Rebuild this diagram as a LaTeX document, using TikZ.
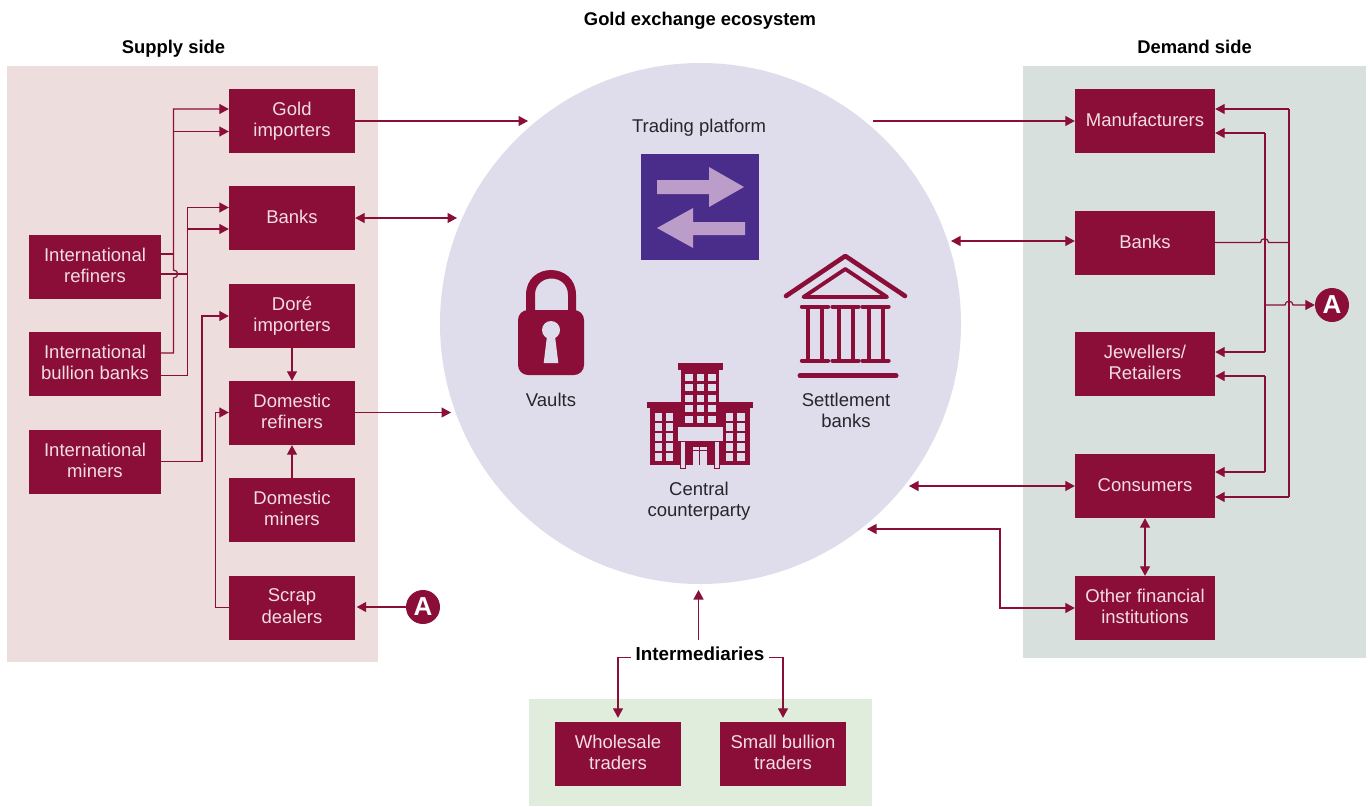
\documentclass[tikz,border=0pt]{standalone}
\usepackage{fontspec}
\setmainfont{Liberation Sans}
\usetikzlibrary{arrows.meta}
\definecolor{maroon}{HTML}{8A0E37}
\definecolor{boxtext}{HTML}{F2DDE2}
\definecolor{supplybg}{HTML}{EEDDDD}
\definecolor{demandbg}{HTML}{D7E0DD}
\definecolor{interbg}{HTML}{E0EDDC}
\definecolor{hubbg}{HTML}{DFDDEB}
\definecolor{tradebg}{HTML}{4A2C8A}
\definecolor{tradearrow}{HTML}{BC9CC8}
\definecolor{inktext}{HTML}{26262B}
\newcommand{\tstrut}{\rule[-3.5pt]{0pt}{18.5pt}}
\tikzset{
  struts/.style={execute at begin node=\tstrut,execute at end node=\tstrut},
  entity/.style={fill=maroon,text=boxtext,inner sep=0pt,align=center,minimum height=64pt,
    struts,font=\fontsize{18.5}{21.5}\selectfont},
  wideent/.style={entity,minimum width=140pt},
  mident/.style={entity,minimum width=126pt},
  leftent/.style={entity,minimum width=132pt},
  heading/.style={font=\fontsize{18.4}{21.5}\selectfont\bfseries,text=black,inner sep=0pt,struts},
  hublabel/.style={font=\fontsize{18.5}{21.5}\selectfont,text=inktext,align=center,inner sep=0pt,struts},
  badge/.style={circle,fill=maroon,text=white,minimum size=34pt,inner sep=0pt,font=\fontsize{26}{26}\selectfont\bfseries},
  link/.style={draw=maroon,line width=1.2pt,line join=miter},
  one/.style={link,-{Triangle[length=9.5pt,width=10pt]}},
  two/.style={link,{Triangle[length=9.5pt,width=10pt]}-{Triangle[length=9.5pt,width=10pt]}},
  iconline/.style={draw=maroon,line cap=round,line join=round},
}
\begin{document}
\begin{tikzpicture}[x=1pt,y=-1pt]
\useasboundingbox (0,0) rectangle (1370,806);
\fill[white] (0,0) rectangle (1370,806);
% panels
\fill[supplybg] (7,66) rectangle (378,662);
\fill[demandbg] (1023,66) rectangle (1366,658);
\fill[interbg] (529,699) rectangle (872,806);
\node[circle,fill=hubbg,minimum size=521pt,inner sep=0pt] (hub) at (700.5,323.5) {};
% headings
\node[heading] (title) at (700,20) {Gold exchange ecosystem};
\node[heading] (supply) at (173.5,48) {Supply side};
\node[heading] (demand) at (1194.5,48) {Demand side};
% supply boxes
\node[mident] (gold) at (292,121) {Gold\\importers};
\node[mident] (sbanks) at (292,218) {Banks};
\node[mident] (dore) at (292,316) {Doré\\importers};
\node[mident] (drefiners) at (292,413) {Domestic\\refiners};
\node[mident] (dminers) at (292,510) {Domestic\\miners};
\node[mident] (scrap) at (292,608) {Scrap\\dealers};
\node[leftent] (irefiners) at (95,267) {International\\refiners};
\node[leftent] (ibullion) at (95,364) {International\\bullion banks};
\node[leftent] (iminers) at (95,462) {International\\miners};
% demand boxes
\node[wideent] (manu) at (1145,121) {Manufacturers};
\node[wideent] (dbanks) at (1145,243) {Banks};
\node[wideent] (jewel) at (1145,364) {Jewellers/\\Retailers};
\node[wideent] (cons) at (1145,486) {Consumers};
\node[wideent] (other) at (1145,608) {Other financial\\institutions};
% intermediaries
\node[mident] (whole) at (618,754) {Wholesale\\traders};
\node[mident] (small) at (783,754) {Small bullion\\traders};
\node[heading,inner xsep=5pt,minimum height=30pt,font=\fontsize{18.8}{21.5}\selectfont\bfseries] (inter) at (700,655) {Intermediaries};
% badges
\node[badge] (badgeL) at (423,607) {A};
\node[badge] (badgeR) at (1332,305) {A};
% hub labels
\node[hublabel] (tp) at (699,127) {Trading platform};
\node[hublabel] (vaults) at (551,401) {Vaults};
\node[hublabel] (settle) at (846,412) {Settlement\\banks};
\node[hublabel] (ccp) at (699,501) {Central\\counterparty};
% free ends at the hub
\coordinate (h1) at (528,121);
\coordinate (h2) at (457,218);
\coordinate (h3) at (451,412.5);
\coordinate (h4) at (873,121);
\coordinate (h5) at (951,241);
\coordinate (h6) at (909,486);
\coordinate (h7) at (867,529);
\coordinate (h8) at (698.5,590);
% left connectors
\draw[link] (irefiners.east |- 0,254) -- (173.5,254);
\draw[one] (ibullion.east |- 0,353) -- (173.5,353) -- (173.5,278) .. controls (179,278) and (179,270) .. (173.5,270) -- (173.5,109) -- (gold.west |- 0,109);
\draw[one] (173.5,131.5) -- (gold.west |- 0,131.5);
\draw[one] (ibullion.east |- 0,375.5) -- (187.5,375.5) -- (187.5,207.5) -- (sbanks.west |- 0,207.5);
\draw[one] (187.5,229) -- (sbanks.west |- 0,229);
\draw[link] (irefiners.east |- 0,274) -- (187.5,274);
\draw[one] (iminers.east |- 0,461.5) -- (202,461.5) -- (202,316) -- (dore.west);
\draw[one] (dore.south) -- (drefiners.north);
\draw[one] (dminers.north) -- (drefiners.south);
\draw[one] (scrap.west |- 0,607.5) -- (215.5,607.5) -- (215.5,412.5) -- (drefiners.west |- 0,412.5);
\draw[one,shorten >=1.5pt] (badgeL.west) -- (scrap.east |- badgeL.west);
% supply to hub
\draw[one] (gold.east) -- (h1);
\draw[two] (sbanks.east) -- (h2);
\draw[one] (drefiners.east |- h3) -- (h3);
% hub to demand
\draw[one] (h4) -- (manu.west);
\draw[two] (h5) -- (dbanks.west |- h5);
\draw[two] (h6) -- (cons.west);
\draw[two] (h7) -- (1000,529) -- (1000,608) -- (other.west);
\draw[two] (cons.south) -- (other.north);
% right connectors
\draw[link] (dbanks.east |- 0,242.5) -- (1260.5,242.5) .. controls (1260.5,237.5) and (1268.5,237.5) .. (1268.5,242.5) -- (1289,242.5);
\draw[one] (1289,109) -- (manu.east |- 0,109);
\draw[one] (1289,497) -- (cons.east |- 0,497);
\draw[link] (1289,109) -- (1289,497);
\draw[one] (1265,133) -- (manu.east |- 0,133);
\draw[one] (1265,352) -- (jewel.east |- 0,352);
\draw[link] (1265,133) -- (1265,352);
\draw[one] (1265,376) -- (jewel.east |- 0,376);
\draw[one] (1265,472) -- (cons.east |- 0,472);
\draw[link] (1265,376) -- (1265,472);
\draw[one] (1265,305) -- (1285,305) .. controls (1285,300) and (1293,300) .. (1293,305) -- (badgeR.west);
% intermediaries connectors
\draw[one] (inter.north -| h8) -- (h8);
\draw[one,shorten >=4pt] (inter.west |- 0,657.5) -- (618,657.5) -- (whole.north);
\draw[one,shorten >=4pt] (inter.east |- 0,657.5) -- (783,657.5) -- (small.north);
% trading icon
\fill[tradebg] (641,154) rectangle (759,260);
\fill[tradearrow] (657,180) -- (709,180) -- (709,167) -- (744,187) -- (709,207) -- (709,194) -- (657,194) -- cycle;
\fill[tradearrow] (745,222) -- (693,222) -- (693,208) -- (657,228) -- (693,248) -- (693,235) -- (745,235) -- cycle;
% lock icon
\fill[maroon] (526,312) -- (526,295) .. controls (526,261.7) and (576,261.7) .. (576,295) -- (576,312) -- (568,312) -- (568,295) .. controls (568,273) and (535,273) .. (535,295) -- (535,312) -- cycle;
\fill[maroon,rounded corners=10pt] (518,310) rectangle (584,375);
\fill[hubbg] (551,330) circle[radius=9];
\fill[hubbg] (547,336) -- (555,336) -- (558.3,363) -- (543.7,363) -- cycle;
% bank icon
\draw[iconline,line width=4.6pt] (786,296) -- (845.3,256) -- (905,296);
\draw[iconline,line width=3.8pt] (803.5,297) -- (845.3,269) -- (887,297) -- cycle;
\foreach \cx in {815,845.5,875.5}{
  \draw[iconline,line width=4.4pt] (\cx-13,306.7) -- (\cx+13,306.7);
  \draw[iconline,line width=4.4pt] (\cx-13,360.7) -- (\cx+13,360.7);
  \draw[draw=maroon,line width=4pt] (\cx-7,306.7) -- (\cx-7,360.7);
  \draw[draw=maroon,line width=4pt] (\cx+7,306.7) -- (\cx+7,360.7);
}
\draw[iconline,line width=5pt] (800,375.7) -- (896,375.7);
% building icon
\fill[maroon] (677.7,363.3) rectangle (723,370);
\fill[maroon] (680.7,370) rectangle (719,428);
\fill[maroon] (647,402.3) rectangle (753.3,408.3);
\fill[maroon] (649.7,408) rectangle (681,465);
\fill[maroon] (719,408) rectangle (749.7,465);
\fill[maroon] (681,440) rectangle (719,465);
\foreach \wy in {373.5,384,394.5,405,415.5}{
  \foreach \wx in {685.3,696.7,708.3}{
    \fill[hubbg] (\wx,\wy) rectangle (\wx+7.4,\wy+7.4);
  }
}
\foreach \wy in {413.3,423.3,433.3,443.3,453.3}{
  \foreach \wx in {655,666,726,737.3}{
    \fill[hubbg] (\wx,\wy) rectangle (\wx+7.4,\wy+7.4);
  }
}
\fill[hubbg,draw=maroon,line width=0.5pt] (677,426.3) rectangle (723,441);
\fill[hubbg,draw=maroon,line width=0.5pt] (680.3,441) rectangle (685,468);
\fill[hubbg,draw=maroon,line width=0.5pt] (714.3,441) rectangle (719.5,468);
\fill[hubbg] (692.7,446.7) rectangle (707,465);
\draw[maroon,line width=0.8pt] (699.8,446.7) -- (699.8,465);
\draw[maroon,line width=0.8pt] (692.7,450.5) -- (707,450.5);
\end{tikzpicture}
\end{document}
